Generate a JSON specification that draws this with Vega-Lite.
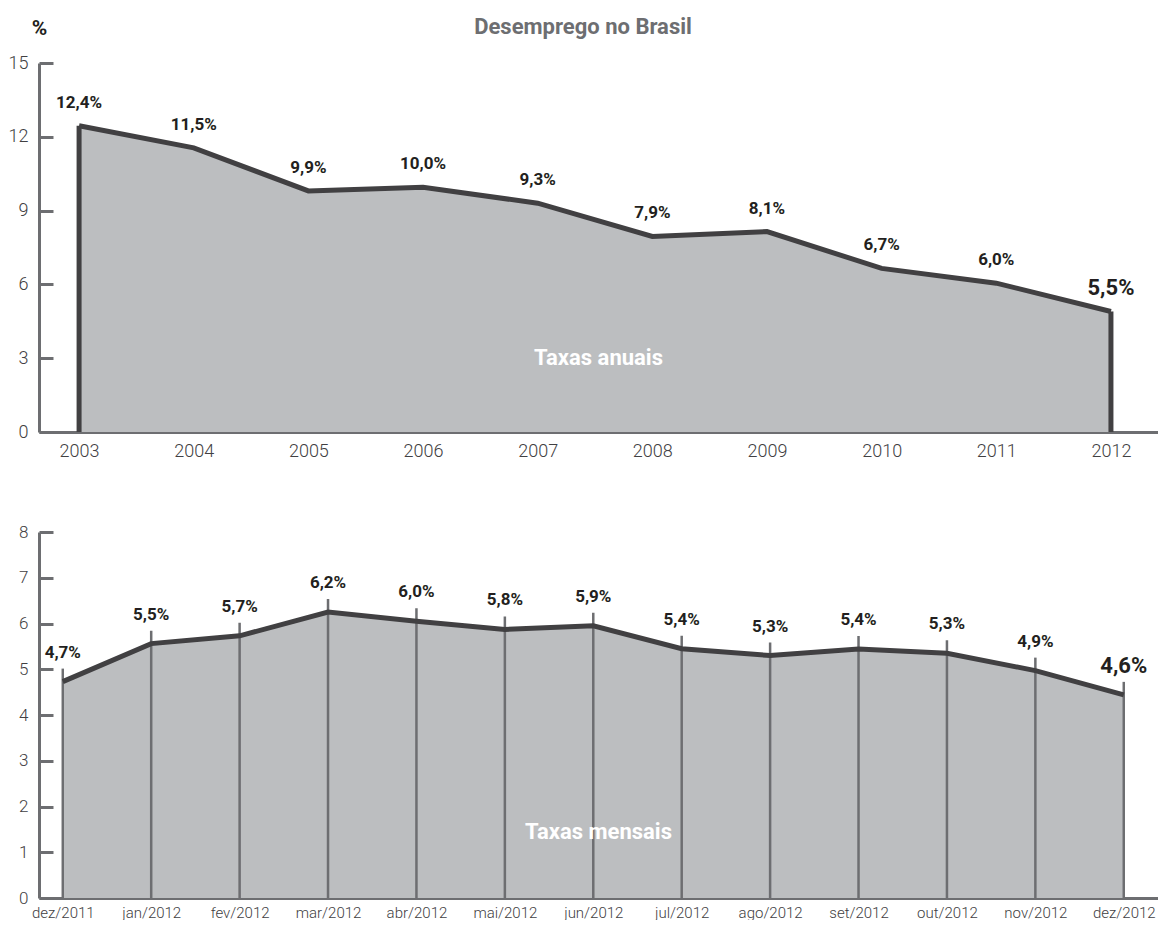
{
  "$schema": "https://vega.github.io/schema/vega-lite/v6.json",
  "padding": {"left": 8, "top": 16, "right": 0, "bottom": 0},
  "background": "white",
  "title": {"text": "Desemprego no Brasil", "anchor": "middle", "font": "Roboto", "fontSize": 22, "fontWeight": "bold", "color": "#6d6e71", "offset": 0, "dy": 22},
  "config": {
    "view": {"stroke": null},
    "font": "Roboto",
    "axis": {"grid": false, "domainColor": "#6d6e71", "domainWidth": 3, "tickColor": "#6d6e71", "tickWidth": 3, "labelColor": "#414042", "labelFont": "Roboto", "labelFontWeight": 300, "zindex": 1}
  },
  "spacing": 63,
  "vconcat": [
    {
      "width": 1119,
      "height": 369,
      "data": {"values": [
        {"ano": "2003", "taxa": 12.45, "rotulo": "12,4%"},
        {"ano": "2004", "taxa": 11.55, "rotulo": "11,5%"},
        {"ano": "2005", "taxa": 9.8, "rotulo": "9,9%"},
        {"ano": "2006", "taxa": 9.95, "rotulo": "10,0%"},
        {"ano": "2007", "taxa": 9.3, "rotulo": "9,3%"},
        {"ano": "2008", "taxa": 7.95, "rotulo": "7,9%"},
        {"ano": "2009", "taxa": 8.15, "rotulo": "8,1%"},
        {"ano": "2010", "taxa": 6.65, "rotulo": "6,7%"},
        {"ano": "2011", "taxa": 6.05, "rotulo": "6,0%"},
        {"ano": "2012", "taxa": 4.9, "rotulo": "5,5%"}
      ]},
      "layer": [
        {
          "mark": {"type": "area", "color": "#bcbec0", "opacity": 1},
          "encoding": {
            "x": {"field": "ano", "type": "ordinal", "scale": {"type": "point", "padding": 0.38, "align": 0.46},
              "axis": {"title": null, "ticks": false, "labelAngle": 0, "labelFontSize": 18, "labelPadding": 10}},
            "y": {"field": "taxa", "type": "quantitative", "scale": {"domain": [0, 15], "nice": false},
              "axis": {"values": [0, 3, 6, 9, 12, 15], "tickSize": -14, "labelFontSize": 18, "labelPadding": 25,
                "title": "%", "titleAngle": 0, "titleX": 0, "titleY": -35, "titleAlign": "center", "titleBaseline": "middle",
                "titleFontSize": 21, "titleFontWeight": "bold", "titleColor": "#231f20"}}
          }
        },
        {
          "mark": {"type": "line", "color": "#414042", "strokeWidth": 5},
          "encoding": {
            "x": {"field": "ano", "type": "ordinal"},
            "y": {"field": "taxa", "type": "quantitative"}
          }
        },
        {
          "transform": [{"filter": "datum.ano === '2003' || datum.ano === '2012'"}],
          "mark": {"type": "rule", "color": "#414042", "strokeWidth": 5},
          "encoding": {
            "x": {"field": "ano", "type": "ordinal"},
            "y": {"field": "taxa", "type": "quantitative"},
            "y2": {"datum": 0}
          }
        },
        {
          "mark": {"type": "text", "font": "Roboto", "fontWeight": "bold", "color": "#231f20", "baseline": "middle", "dy": -23},
          "encoding": {
            "x": {"field": "ano", "type": "ordinal"},
            "y": {"field": "taxa", "type": "quantitative"},
            "text": {"field": "rotulo"},
            "size": {"condition": {"test": "datum.ano === '2012'", "value": 22}, "value": 17}
          }
        },
        {
          "data": {"values": [{"rotulo": "Taxas anuais"}]},
          "mark": {"type": "text", "x": {"expr": "width/2"}, "font": "Roboto", "fontWeight": "bold", "fontSize": 22, "color": "white", "baseline": "middle"},
          "encoding": {
            "y": {"datum": 3, "type": "quantitative"},
            "text": {"field": "rotulo"}
          }
        }
      ]
    },
    {
      "width": 1119,
      "height": 366,
      "data": {"values": [
        {"mes": "dez/2011", "taxa": 4.73, "rotulo": "4,7%"},
        {"mes": "jan/2012", "taxa": 5.56, "rotulo": "5,5%"},
        {"mes": "fev/2012", "taxa": 5.73, "rotulo": "5,7%"},
        {"mes": "mar/2012", "taxa": 6.25, "rotulo": "6,2%"},
        {"mes": "abr/2012", "taxa": 6.05, "rotulo": "6,0%"},
        {"mes": "mai/2012", "taxa": 5.87, "rotulo": "5,8%"},
        {"mes": "jun/2012", "taxa": 5.95, "rotulo": "5,9%"},
        {"mes": "jul/2012", "taxa": 5.45, "rotulo": "5,4%"},
        {"mes": "ago/2012", "taxa": 5.3, "rotulo": "5,3%"},
        {"mes": "set/2012", "taxa": 5.44, "rotulo": "5,4%"},
        {"mes": "out/2012", "taxa": 5.35, "rotulo": "5,3%"},
        {"mes": "nov/2012", "taxa": 4.97, "rotulo": "4,9%"},
        {"mes": "dez/2012", "taxa": 4.44, "rotulo": "4,6%"}
      ]},
      "layer": [
        {
          "mark": {"type": "area", "color": "#bcbec0", "opacity": 1},
          "encoding": {
            "x": {"field": "mes", "type": "ordinal", "sort": null, "scale": {"type": "point", "padding": 0.328, "align": 0.41},
              "axis": {"title": null, "ticks": false, "labelAngle": 0, "labelFontSize": 15, "labelPadding": 7}},
            "y": {"field": "taxa", "type": "quantitative", "scale": {"domain": [0, 8], "nice": false},
              "axis": {"values": [0, 1, 2, 3, 4, 5, 6, 7, 8], "tickSize": -14, "labelFontSize": 17, "labelPadding": 25, "title": null}}
          }
        },
        {
          "mark": {"type": "rule", "color": "#6d6e71", "strokeWidth": 2.5, "yOffset": -13},
          "encoding": {
            "x": {"field": "mes", "type": "ordinal", "sort": null},
            "y": {"field": "taxa", "type": "quantitative"},
            "y2": {"datum": 0}
          }
        },
        {
          "mark": {"type": "line", "color": "#414042", "strokeWidth": 5},
          "encoding": {
            "x": {"field": "mes", "type": "ordinal", "sort": null},
            "y": {"field": "taxa", "type": "quantitative"}
          }
        },
        {
          "mark": {"type": "text", "font": "Roboto", "fontWeight": "bold", "color": "#231f20", "baseline": "middle", "dy": -29},
          "encoding": {
            "x": {"field": "mes", "type": "ordinal", "sort": null},
            "y": {"field": "taxa", "type": "quantitative"},
            "text": {"field": "rotulo"},
            "size": {"condition": {"test": "datum.mes === 'dez/2012'", "value": 22}, "value": 17}
          }
        },
        {
          "data": {"values": [{"rotulo": "Taxas mensais"}]},
          "mark": {"type": "text", "x": {"expr": "width/2"}, "font": "Roboto", "fontWeight": "bold", "fontSize": 22, "color": "white", "baseline": "middle"},
          "encoding": {
            "y": {"datum": 1.45, "type": "quantitative"},
            "text": {"field": "rotulo"}
          }
        }
      ]
    }
  ]
}
